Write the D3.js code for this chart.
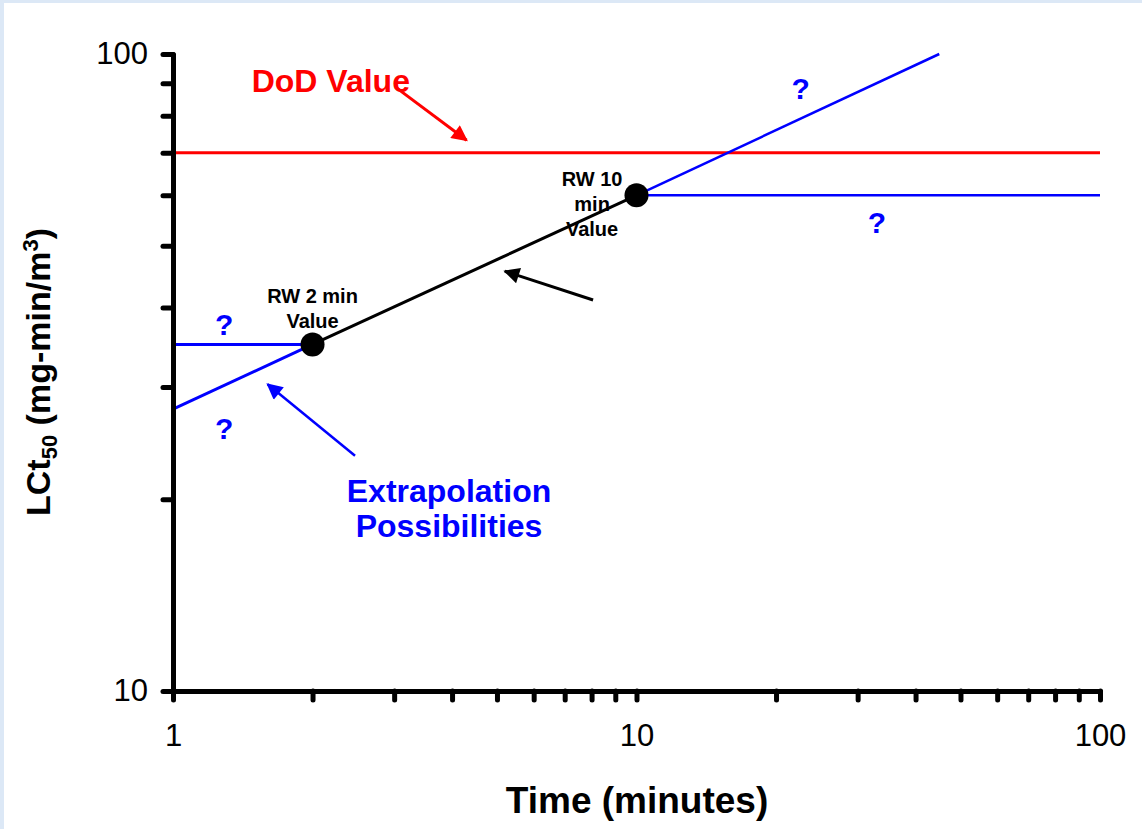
<!DOCTYPE html>
<html>
<head>
<meta charset="utf-8">
<script src="https://cdn.jsdelivr.net/npm/d3@7"></script>
<style>
  html, body { margin: 0; padding: 0; background: #dce8f6; }
  svg { display: block; }
  text { font-family: "Liberation Sans", Arial, sans-serif; }
</style>
</head>
<body>
<svg id="chart"></svg>
<script>
// Data (time in minutes, LCt50 in mg-min/m3)
var dodTimes = [1, 100];
var dodValues = [70, 70];

var rwTimes = [2, 10];
var rwValues = [35, 60];

var upSlopeTimes = [10, 45];
var upSlopeValues = [60, 100];
var upFlatTimes = [10, 100];
var upFlatValues = [60, 60];

var lowFlatTimes = [1, 2];
var lowFlatValues = [35, 35];
var lowSlopeTimes = [1, 2];
var lowSlopeValues = [27.7, 35];

var xTicks = [1, 2, 3, 4, 5, 6, 7, 8, 9, 10, 20, 30, 40, 50, 60, 70, 80, 90, 100];
var yTicks = [10, 20, 30, 40, 50, 60, 70, 80, 90, 100];
var xLabels = [1, 10, 100];
var yLabels = [10, 100];

var W = 1142, H = 829;
var svg = d3.select("#chart").attr("width", W).attr("height", H);

// page background: pale blue border, white sheet
svg.append("rect").attr("width", W).attr("height", H).attr("fill", "#dce8f6");
svg.append("rect").attr("x", 4).attr("y", 3).attr("width", W - 4).attr("height", H - 3).attr("fill", "#ffffff");

var x = d3.scaleLog().domain([1, 100]).range([173, 1100]);
var y = d3.scaleLog().domain([10, 100]).range([691, 54]);

// arrow heads
var defs = svg.append("defs");
function marker(id, color) {
  defs.append("marker")
    .attr("id", id)
    .attr("viewBox", "0 0 10 10")
    .attr("refX", 9).attr("refY", 5)
    .attr("markerUnits", "userSpaceOnUse")
    .attr("markerWidth", 20).attr("markerHeight", 16)
    .attr("orient", "auto")
    .append("path")
    .attr("d", "M0,0 L10,5 L0,10 Z")
    .attr("fill", color);
}
marker("headRed", "#ff0000");
marker("headBlack", "#000000");
marker("headBlue", "#0000ff");

var line = d3.line()
  .x(function (d) { return x(d[0]); })
  .y(function (d) { return y(d[1]); });

function series(ts, vs) {
  return ts.map(function (t, i) { return [t, vs[i]]; });
}

function drawLine(ts, vs, color, w) {
  svg.append("path")
    .datum(series(ts, vs))
    .attr("d", line)
    .attr("fill", "none")
    .attr("stroke", color)
    .attr("stroke-width", w);
}

drawLine(dodTimes, dodValues, "#ff0000", 3);
drawLine(upSlopeTimes, upSlopeValues, "#0000ff", 2.5);
drawLine(upFlatTimes, upFlatValues, "#0000ff", 2.5);
drawLine(lowFlatTimes, lowFlatValues, "#0000ff", 3);
drawLine(lowSlopeTimes, lowSlopeValues, "#0000ff", 3);
drawLine(rwTimes, rwValues, "#000000", 3);

// axes
var yAxis = d3.axisLeft(y)
  .tickValues(yTicks)
  .tickSize(10)
  .tickSizeOuter(0)
  .tickPadding(15)
  .tickFormat(function (d) { return yLabels.indexOf(d) >= 0 ? d : ""; });

var xAxis = d3.axisBottom(x)
  .tickValues(xTicks)
  .tickSize(9)
  .tickSizeOuter(0)
  .tickPadding(24)
  .tickFormat(function (d) { return xLabels.indexOf(d) >= 0 ? d : ""; });

var gy = svg.append("g").attr("transform", "translate(" + x(1) + ",0)").call(yAxis);
var gx = svg.append("g").attr("transform", "translate(0," + y(10) + ")").call(xAxis);

[gx, gy].forEach(function (g) {
  g.select(".domain").attr("stroke", "#000").attr("stroke-width", 5).attr("stroke-linecap", "round");
  g.selectAll(".tick line").attr("stroke", "#000").attr("stroke-width", 5).attr("stroke-linecap", "round");
  g.selectAll(".tick text")
    .attr("fill", "#000")
    .style("font-family", "Liberation Sans, Arial, sans-serif")
    .style("font-size", "31px");
});

// RW points
svg.selectAll("circle.rw")
  .data(series(rwTimes, rwValues))
  .enter().append("circle")
  .attr("class", "rw")
  .attr("cx", function (d) { return x(d[0]); })
  .attr("cy", function (d) { return y(d[1]); })
  .attr("r", 12)
  .attr("fill", "#000");

// annotation arrows (data space)
function arrow(from, to, color, head, w) {
  svg.append("line")
    .attr("x1", x(from[0])).attr("y1", y(from[1]))
    .attr("x2", x(to[0])).attr("y2", y(to[1]))
    .attr("stroke", color).attr("stroke-width", w)
    .attr("marker-end", "url(#" + head + ")");
}
arrow([3.04, 88.4], [4.3, 73.2], "#ff0000", "headRed", 3);
arrow([8.06, 41.1], [5.2, 45.6], "#000000", "headBlack", 3);
arrow([2.47, 23.4], [1.6, 30.3], "#0000ff", "headBlue", 2.5);

// text labels
function label(lines, t, v, color, size, lh) {
  var txt = svg.append("text")
    .attr("x", x(t)).attr("y", y(v))
    .attr("text-anchor", "middle")
    .attr("fill", color)
    .style("font-weight", "bold")
    .style("font-size", size + "px");
  lines.forEach(function (s, i) {
    txt.append("tspan").attr("x", x(t)).attr("dy", i === 0 ? 0 : lh).text(s);
  });
}

label(["DoD Value"], 2.19, 87.2, "#ff0000", 32, 0);
label(["RW 10", "min", "Value"], 8.02, 62.05, "#000000", 20, 25);
label(["RW 2 min", "Value"], 2.0, 40.66, "#000000", 20, 25);
label(["Extrapolation", "Possibilities"], 3.94, 19.8, "#0000ff", 32, 35);

var qTimes = [22.6, 33, 1.29, 1.29];
var qValues = [85.0, 52.4, 36.2, 24.86];
svg.selectAll("text.q")
  .data(series(qTimes, qValues))
  .enter().append("text")
  .attr("class", "q")
  .attr("x", function (d) { return x(d[0]); })
  .attr("y", function (d) { return y(d[1]); })
  .attr("text-anchor", "middle")
  .attr("fill", "#0000ff")
  .style("font-weight", "bold")
  .style("font-size", "30px")
  .text("?");

// axis titles
svg.append("text")
  .attr("x", 637).attr("y", 813)
  .attr("text-anchor", "middle")
  .style("font-weight", "bold")
  .style("font-size", "37px")
  .text("Time (minutes)");

var yt = svg.append("text")
  .attr("transform", "translate(50,372) rotate(-90)")
  .attr("text-anchor", "middle")
  .style("font-weight", "bold")
  .style("font-size", "34px");
yt.append("tspan").text("LCt");
yt.append("tspan").attr("dy", 7).style("font-size", "22px").text("50");
yt.append("tspan").attr("dy", -7).text(" (mg-min/m");
yt.append("tspan").attr("dy", -12).style("font-size", "22px").text("3");
yt.append("tspan").attr("dy", 12).text(")");
</script>
</body>
</html>
